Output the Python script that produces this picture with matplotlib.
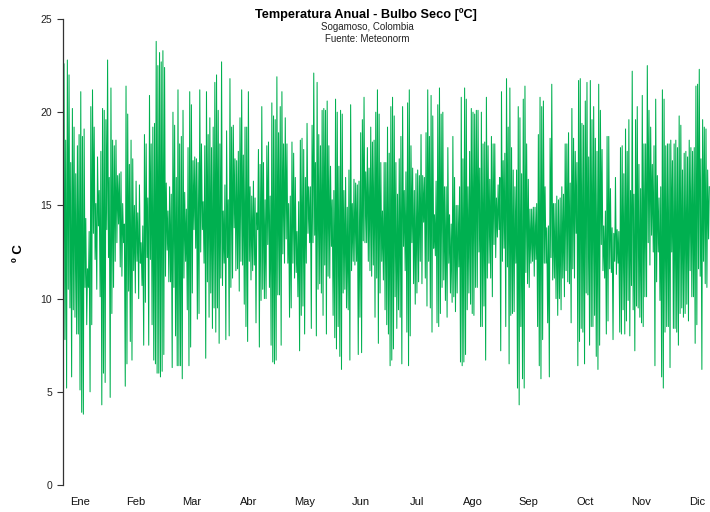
import numpy as np
import matplotlib
matplotlib.use('Agg')
import matplotlib.pyplot as plt

# ── Daily extremes of dry-bulb temperature [ºC], Jan → Dec ──
TMAX = [
    22.6, 18.5, 22.8, 22.0, 17.3, 20.2, 19.2, 16.7, 18.2, 18.8,
    21.1, 18.7, 19.1, 14.3, 11.6, 13.6, 20.3, 21.2, 19.2, 15.1,
    17.6, 15.8, 17.9, 20.2, 20.1, 19.6, 22.8, 16.5, 21.3, 18.5,
    18.2, 18.5, 16.6, 16.7, 16.8, 15.1, 14.0, 21.4, 19.9, 17.2,
    18.5, 17.5, 15.0, 16.3, 14.6, 16.1, 13.0, 13.9, 18.8, 18.3,
    15.4, 20.9, 18.3, 19.2, 19.4, 23.8, 22.5, 23.2, 22.7,
    23.3, 22.4, 16.2, 14.7, 16.0, 15.6, 20.0, 19.3, 16.5, 21.2,
    18.3, 18.7, 20.1, 15.7, 14.8, 18.1, 21.1, 20.4, 17.4, 17.6,
    17.5, 17.3, 21.2, 18.3, 15.2, 18.2, 21.1, 18.8, 19.7, 18.1,
    19.2, 21.6, 22.0, 20.1, 18.3, 22.7, 14.7, 16.1, 19.0, 15.3,
    21.8, 19.2, 19.3, 17.5, 17.4, 17.9, 19.7, 21.2, 17.7, 19.2,
    19.2, 21.1, 16.0, 15.5, 16.3, 15.4, 14.6, 18.0, 17.2, 20.3,
    17.3, 15.3, 18.2, 18.4, 15.5, 20.5, 19.8, 19.6, 21.9, 18.9,
    20.3, 21.1, 18.3, 19.7, 18.3, 15.1, 15.5, 18.4, 17.8, 16.5,
    13.6, 15.2, 18.5, 18.6, 18.0, 16.5, 19.4, 16.0, 16.0, 19.3,
    22.1, 17.3, 21.6, 18.8, 18.2, 20.1, 20.2, 20.1, 20.6, 18.2,
    17.1, 15.3, 15.8, 20.7, 20.0, 17.1, 20.1, 19.9, 15.8, 16.5,
    14.9, 16.9, 20.4, 15.1, 16.4, 16.2, 16.1, 16.3, 18.9, 19.6,
    20.8, 16.8, 18.1, 17.0,
    19.2, 18.4, 18.5, 20.0, 21.2, 19.9, 17.3, 14.7, 17.3, 17.3,
    19.2, 17.8, 20.3, 20.8, 19.8, 17.3, 15.6, 17.5, 18.7, 20.3,
    15.8, 16.8, 20.5, 21.2, 18.2, 17.0, 15.8, 16.7, 16.9, 16.6,
    18.8, 16.6, 16.5, 18.9, 21.2, 18.7, 20.9, 19.8, 14.5, 16.3,
    20.4, 21.3, 19.9, 20.0, 16.0, 16.0, 18.1, 14.5, 14.0, 18.7,
    16.5, 15.0, 15.0, 16.0, 20.8, 17.5, 21.3, 20.7, 16.0, 17.9,
    20.2, 20.0, 19.9,
    20.1, 20.1, 17.0, 20.0, 18.3, 18.4, 20.8, 18.2, 16.4, 18.7,
    18.3, 18.3, 15.4, 16.1, 16.5, 21.1, 17.4, 17.8, 21.8, 19.2,
    21.3, 18.1, 16.9, 16.0, 16.9, 20.3, 19.7, 16.7, 20.7, 21.4,
    18.3, 16.4, 14.8, 14.8, 14.9, 14.9, 15.1, 18.8, 20.8, 20.3,
    20.6, 16.0, 13.8, 13.9, 18.6, 21.5, 15.1, 15.1, 15.5, 15.3,
    15.4, 16.0, 15.6, 18.3, 18.3, 18.9, 16.2, 20.2, 18.6, 17.9,
    17.3, 21.7, 21.8,
    19.4, 19.3, 20.6, 21.6, 17.6, 21.7, 19.6, 20.3, 18.6, 17.9,
    21.5, 20.1, 18.0, 13.9, 14.7, 18.7, 18.7, 15.9, 13.8, 13.5,
    16.5, 13.7, 13.6, 18.1, 18.2, 16.7, 19.1, 17.9, 19.6, 15.8,
    22.2, 15.6, 19.6, 20.3, 17.2, 15.9, 20.9, 18.3, 18.3, 22.5,
    20.1, 19.2, 17.2, 18.2, 20.7, 16.6, 15.4, 16.0, 21.2, 20.7,
    18.2, 18.3, 18.3, 18.5, 17.4, 18.3, 18.5, 18.1, 19.8, 19.3,
    16.9, 17.8, 17.9, 17.6, 18.5, 18.1, 17.9, 18.1, 21.4, 21.5,
    22.3, 17.5, 19.6, 19.2, 19.1, 16.9, 16.0,
]

TMIN = [
    8.2, 7.8, 5.2, 10.5, 9.5, 5.8, 9.4, 9.0, 8.1, 8.1,
    5.1, 3.9, 3.8, 10.6, 8.6, 10.6, 5.0, 8.6, 13.5, 12.1,
    10.5, 13.9, 10.1, 4.3, 6.0, 5.5, 13.7, 12.2, 4.7, 9.2,
    10.6, 12.0, 13.0, 14.0, 11.7, 11.2, 13.0, 5.3, 6.5, 10.4,
    7.7, 6.7, 11.5, 10.3, 12.0, 10.0, 11.9, 10.7, 7.5, 9.8,
    12.2, 7.5, 12.1, 8.6, 6.7, 6.5, 6.0, 6.0, 5.8,
    6.1, 7.0, 11.2, 12.6, 10.9, 10.9, 6.3, 10.6, 8.0, 6.4,
    6.4, 6.4, 5.7, 11.1, 12.0, 9.4, 6.4, 7.4, 10.3, 13.7,
    12.7, 8.9, 9.2, 12.5, 13.7, 11.9, 6.8, 10.9, 9.0, 10.3,
    8.4, 9.5, 8.2, 9.5, 7.6, 11.1, 10.7, 11.9, 7.8, 12.2,
    8.0, 10.6, 11.1, 13.8, 11.5, 11.6, 10.4, 12.0, 11.8, 9.7,
    8.5, 7.7, 12.0, 11.0, 11.5, 11.8, 8.7, 13.7, 7.4, 9.9,
    10.5, 10.0, 10.0, 12.9, 10.6, 7.5, 6.6, 6.5, 6.7, 10.2,
    10.2, 7.5, 12.4, 11.9, 13.2, 11.9, 9.0, 9.5, 11.9, 11.1,
    11.4, 10.1, 7.2, 9.1, 9.6, 8.1, 11.9, 13.5, 13.0, 8.4,
    13.0, 13.4, 8.0, 10.5, 10.8, 10.3, 9.1, 11.8, 8.1, 11.2,
    11.1, 12.8, 9.1, 7.9, 7.3, 8.5, 6.9, 6.2, 10.3, 10.5,
    9.5, 9.4, 6.7, 11.5, 12.0, 11.8, 12.0, 7.0, 9.0, 7.1,
    13.1, 13.0, 13.0, 12.0,
    11.5, 11.2, 11.8, 9.0, 11.1, 7.6, 10.3, 12.0, 11.0, 9.4,
    8.6, 8.1, 6.4, 6.7, 7.3, 10.1, 8.4, 9.4, 9.0, 6.5,
    12.8, 11.5, 8.2, 6.4, 8.0, 13.0, 10.8, 9.7, 10.3, 10.9,
    12.0, 10.8, 14.1, 11.1, 9.6, 12.0, 9.5, 8.2, 12.7, 12.3,
    8.7, 8.5, 9.2, 10.6, 11.0, 9.9, 9.0, 11.9, 10.3, 9.8,
    10.1, 9.3, 10.3, 11.7, 6.6, 6.4, 6.6, 7.0, 9.4, 10.3,
    9.7, 9.2, 9.1,
    10.6, 10.6, 12.5, 8.5, 8.5, 9.6, 6.7, 11.1, 11.9, 11.1,
    10.1, 12.9, 12.2, 13.3, 13.7, 7.2, 12.0, 12.7, 8.5, 11.7,
    6.5, 9.1, 9.2, 9.3, 11.9, 5.2, 4.3, 8.5, 5.7, 5.2,
    11.4, 10.8, 10.6, 11.9, 12.0, 11.2, 12.1, 8.5, 6.4, 5.7,
    7.8, 11.9, 11.9, 8.7, 5.8, 12.2, 11.0, 11.1, 10.0, 9.1,
    10.0, 9.4, 11.1, 10.1, 11.5, 10.9, 10.8, 8.7, 11.6, 11.1,
    13.5, 6.4, 7.7,
    8.4, 8.2, 6.5, 10.3, 10.2, 7.5, 8.5, 8.5, 9.1, 6.9,
    6.2, 7.5, 12.9, 11.5, 11.1, 8.1, 8.8, 11.6, 11.4, 7.8,
    12.0, 11.3, 11.9, 8.2, 8.1, 9.4, 8.1, 8.8, 9.9, 8.0,
    10.7, 9.4, 7.2, 9.6, 9.5, 9.0, 8.7, 8.5, 10.1, 10.1,
    13.0, 11.8, 13.4, 12.5, 6.4, 10.9, 12.5, 9.9, 5.8, 5.2,
    8.2, 8.5, 8.5, 6.3, 12.5, 8.4, 8.4, 8.2, 7.5, 9.2,
    9.5, 9.0, 9.2, 9.7, 8.8, 11.5, 10.1, 10.1, 7.6, 8.6,
    11.6, 11.2, 6.2, 12.0, 10.8, 10.6, 13.2,
]

MESES = ['Ene', 'Feb', 'Mar', 'Abr', 'May', 'Jun',
         'Jul', 'Ago', 'Sep', 'Oct', 'Nov', 'Dic']

COLOR = '#00B050'
plt.rcParams['font.family'] = ['Liberation Sans', 'DejaVu Sans']

# ── build daily min → max sawtooth over the year ──
tmin = np.array(TMIN)
tmax = np.array(TMAX)
n = len(tmax)
dia = np.linspace(0, 365, n, endpoint=False)
paso = 365 / n
x = np.column_stack([dia + 0.15 * paso, dia + 0.6 * paso]).ravel()
y = np.column_stack([tmin, tmax]).ravel()

fig = plt.figure(figsize=(7.1, 5.12), dpi=100)
ax = fig.add_axes([63 / 710, 27 / 512, 647 / 710, 466 / 512])

ax.plot(x, y, color=COLOR, lw=0.75)

ax.set_xlim(0, 365)
ax.set_ylim(0, 25)

# only the y axis line, R style
for s in ['top', 'right', 'bottom']:
    ax.spines[s].set_visible(False)
ax.spines['left'].set_bounds(0, 25)
ax.spines['left'].set_linewidth(0.9)
ax.spines['left'].set_color('#333333')

ax.set_yticks(range(0, 26, 5))
ax.tick_params(axis='y', length=4, width=0.8, color='#333333',
               labelsize=7.5, labelcolor='#222222', pad=4)

pos_meses = np.linspace(9.6, 357.6, 12)
ax.set_xticks(pos_meses)
ax.set_xticklabels(MESES)
ax.tick_params(axis='x', length=0, labelsize=8, labelcolor='#111111', pad=14.5)
for lbl in ax.get_xticklabels():
    lbl.set_verticalalignment('baseline')

fig.text(19 / 710, 1 - 253 / 512, 'º C', rotation=90, ha='center', va='center',
         fontsize=9.5, fontweight='bold')

fig.text(365.5 / 710, 1 - 14.7 / 512, 'Temperatura Anual - Bulbo Seco [ºC]',
         ha='center', va='center', fontsize=9.2, fontweight='bold')
fig.text(367 / 710, 1 - 27.3 / 512, 'Sogamoso, Colombia', ha='center', va='center',
         fontsize=7, color='#222222')
fig.text(367 / 710, 1 - 39 / 512, 'Fuente: Meteonorm', ha='center', va='center',
         fontsize=7, color='#222222')

plt.savefig('out.png', dpi=100)
plt.close()
